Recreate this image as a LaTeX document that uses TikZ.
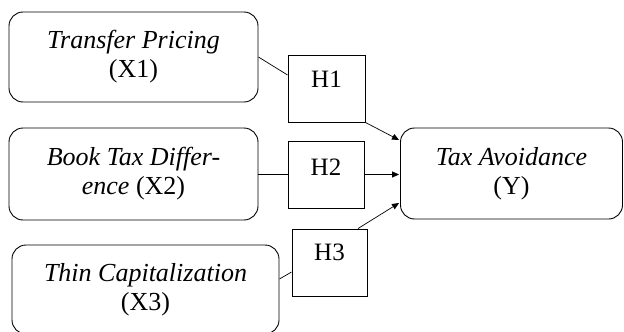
\documentclass[tikz,border=0pt]{standalone}
\usepackage{fontspec}
\setmainfont{Liberation Serif}
\usetikzlibrary{arrows.meta}
\tikzset{
  varbox/.style={draw=black, line width=0.9pt, rounded corners=14pt, align=center,
    inner sep=0pt, font=\fontsize{26}{29}\selectfont},
  hypbox/.style={draw=black, line width=0.9pt, rectangle, inner sep=0pt,
    font=\fontsize{25}{29}\selectfont},
  link/.style={draw=black, line width=0.7pt},
  arr/.style={link, -{Triangle[length=7pt,width=6pt]}}
}
\begin{document}
\begin{tikzpicture}[x=1pt,y=-1pt]
\useasboundingbox (0,0) rectangle (624,332);

% variables
\node[varbox, minimum width=249pt, minimum height=90pt] (X1) at (133.5,57)
  {\textit{Transfer Pricing}\\(X1)};
\node[varbox, minimum width=249pt, minimum height=92pt] (X2) at (133.5,174)
  {\textit{Book Tax Differ-}\\\textit{ence} (X2)};
\node[varbox, minimum width=267pt, minimum height=89pt] (X3) at (145.5,289.5)
  {\textit{Thin Capitalization}\\(X3)};
\node[varbox, minimum width=222pt, minimum height=91pt] (Y) at (511.5,173.5)
  {\textit{Tax Avoidance}\\(Y)};

% hypotheses
\node[hypbox, minimum width=77pt, text height=32pt, text depth=35pt] (H1) at (326.5,88.5) {H1};
\node[hypbox, minimum width=76pt, text height=34pt, text depth=33pt] (H2) at (326,174.5) {H2};
\node[hypbox, minimum width=75pt, text height=31pt, text depth=36pt] (H3) at (329.5,262.5) {H3};

% paths
\draw[link] (X1.east) -- ([yshift=13.5pt]H1.west);
\draw[arr] (H1.south east) -- ([yshift=33.5pt,xshift=-1pt]Y.west);
\draw[link] (X2.east) -- (H2.west |- X2.east);
\draw[arr] (H2.east) -- ([xshift=-1pt]Y.west |- H2.east);
\draw[link] ([yshift=10.5pt]X3.east) -- ([yshift=-9.5pt]H3.west);
\draw[arr] ([xshift=28.5pt]H3.north) -- ([yshift=-29.5pt,xshift=-1pt]Y.west);
\end{tikzpicture}
\end{document}
